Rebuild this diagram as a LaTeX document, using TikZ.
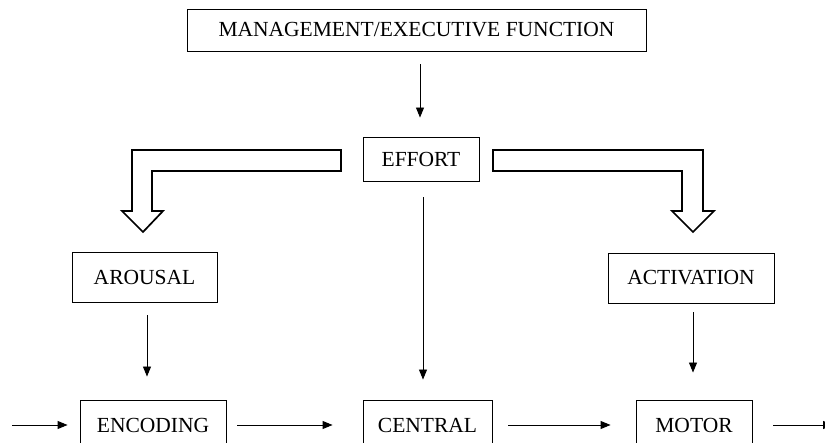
\documentclass[tikz,border=0pt]{standalone}
\usepackage{fontspec}
\setmainfont{Liberation Serif}
\usetikzlibrary{arrows.meta}

\tikzset{
  box/.style={draw,line width=0.9pt,inner sep=0pt,minimum width=#1,minimum height=50pt,
    font=\fontsize{21.5}{25}\selectfont},
  arr/.style={line width=0.9pt,-{Triangle[length=10pt,width=8pt]}},
  hollow/.style={draw,line width=1.7pt,fill=white},
}

\begin{document}
\begin{tikzpicture}[x=1pt,y=-1pt]
\useasboundingbox (0,0) rectangle (825,443);
\clip (0,0) rectangle (825,443);
% boxes
\node[box=459pt,minimum height=42pt] (mgmt) at (416.5,30) {MANAGEMENT/EXECUTIVE FUNCTION};
\node[box=116pt,minimum height=44pt] (effort) at (421,159) {EFFORT};
\node[box=145pt] (arousal) at (144.5,277) {AROUSAL};
\node[box=166pt] (activation) at (691,278) {ACTIVATION};
\node[box=146pt] (encoding) at (153,425) {ENCODING};
\node[box=129pt] (central) at (427.5,425) {CENTRAL};
\node[box=116pt] (motor) at (694,425) {MOTOR};
\coordinate (in) at (12,425);
\coordinate (out) at (833,425);
% hollow arrows from effort
\draw[hollow] (341,150) -- (132,150) -- (132,211) -- (122,211) -- (143,232) -- (163,211) -- (152,211) -- (152,171) -- (341,171) -- cycle;
\draw[hollow] (493,150) -- (703,150) -- (703,211) -- (714,211) -- (693,232) -- (672,211) -- (682,211) -- (682,171) -- (493,171) -- cycle;
% vertical arrows
\draw[arr,shorten <=13pt,shorten >=19pt] ([xshift=3.5pt]mgmt.south) -- ([xshift=-1pt]effort.north);
\draw[arr,shorten <=16pt,shorten >=20pt] ([xshift=2pt]effort.south) -- ([xshift=-4.5pt]central.north);
\draw[arr,shorten <=13pt,shorten >=23pt] ([xshift=2.5pt]arousal.south) -- ([xshift=-6pt]encoding.north);
\draw[arr,shorten <=9pt,shorten >=27pt] ([xshift=2pt]activation.south) -- ([xshift=-1pt]motor.north);
% bottom row
\draw[arr,shorten >=12pt] (in) -- (encoding.west);
\draw[arr,shorten <=11pt,shorten >=30pt] (encoding) -- (central);
\draw[arr,shorten <=16pt,shorten >=25pt] (central) -- (motor);
\draw[arr,shorten <=21pt] (motor) -- (out);
\end{tikzpicture}
\end{document}
